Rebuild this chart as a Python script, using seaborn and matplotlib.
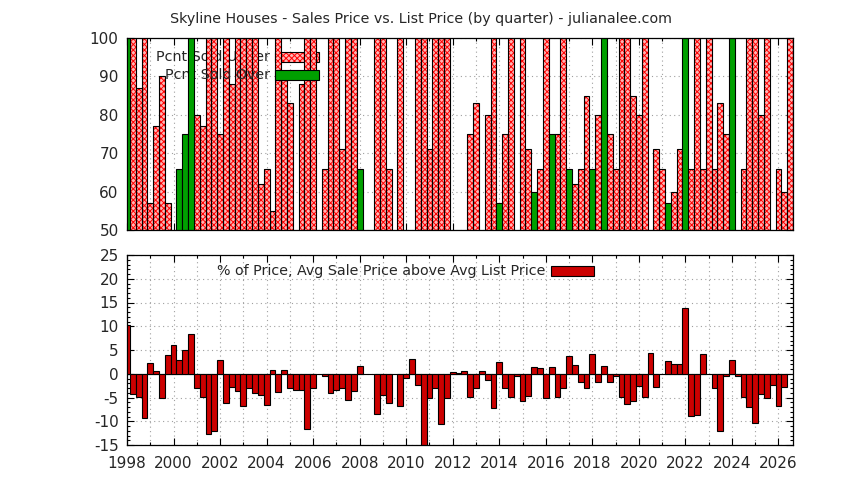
import numpy as np
import pandas as pd
import seaborn as sns
import matplotlib
matplotlib.use('Agg')
from matplotlib import pyplot as plt
from matplotlib.ticker import MultipleLocator
from matplotlib.patches import Rectangle

_ = np.nan

# one slot per quarter, starting 1998 Q1
first_year = 1998

# top panel (percent of sales), nan = no bar in that quarter
sold_under = [
    _, 100, 87, 100, 57, 77, 90, 57, _, _,
    _, _, 80, 77, 100, 100, 75, 100, 88, 100,
    100, 100, 100, 62, 66, 55, 100, 89, 83, _,
    88, 100, 100, _, 66, 100, 100, 71, 100, 100,
    _, _, _, 100, 100, 66, _, 100, _, _,
    100, 100, 71, 100, 100, 100, _, _, _, 75,
    83, _, 80, 100, _, 75, 100, _, 100, 71,
    _, 66, 100, _, 75, 100, _, 62, 66, 85,
    _, 80, _, 75, 66, 100, 100, 85, 80, 100,
    _, 71, 66, _, 60, 71, _, 66, 100, 66,
    100, 66, 83, 75, _, _, 66, 100, 100, 80,
    100, _, 66, 60, 100,
]
sold_over = [
    100, _, _, _, _, _, _, _, _, 66,
    75, 100, _, _, _, _, _, _, _, _,
    _, _, _, _, _, _, _, _, _, _,
    _, _, _, _, _, _, _, _, _, _,
    66, _, _, _, _, _, _, _, _, _,
    _, _, _, _, _, _, _, _, _, _,
    _, _, _, _, 57, _, _, _, _, _,
    60, _, _, 75, _, _, 66, _, _, _,
    66, _, 100, _, _, _, _, _, _, _,
    _, _, _, 57, _, _, 100, _, _, _,
    _, _, _, _, 100, _, _, _, _, _,
    _, _, _, _, _,
]

# bottom panel: avg sale price above avg list price, in %
pct_above = [
    10.2, -4.2, -4.8, -9.4, 2.3, 0.6, -5.0, 4.0, 6.1, 2.9,
    5.0, 8.4, -3.0, -4.9, -12.6, -12.0, 2.9, -6.1, -2.7, -3.6,
    -6.7, -3.1, -4.0, -4.5, -6.5, 0.8, -3.8, 0.8, -2.9, -3.4,
    -3.4, -11.7, -3.0, _, -0.5, -4.0, -3.4, -2.9, -5.6, -3.7,
    1.7, _, _, -8.4, -4.5, -6.1, _, -6.7, -0.8, 3.1,
    -2.3, -16.0, -5.0, -2.9, -10.5, -5.2, 0.3, 0.1, 0.6, -4.8,
    -2.9, 0.6, -1.3, -7.3, 2.5, -2.9, -4.8, -0.4, -5.8, -4.6,
    1.5, 1.3, -5.2, 1.5, -4.8, -2.9, 3.8, 1.9, -1.7, -3.1,
    4.2, -1.7, 1.7, -1.7, -0.4, -4.8, -6.3, -5.7, -2.5, -4.8,
    4.4, -2.7, _, 2.7, 2.1, 2.1, 13.8, -8.8, -8.6, 4.2,
    _, -2.9, -12.0, -0.4, 2.9, -0.4, -4.8, -6.9, -10.3, -4.2,
    -5.2, -2.3, -6.7, -2.7, _,
]

title = "Skyline Houses - Sales Price vs. List Price (by quarter) - julianalee.com"

quarter = first_year + np.arange(len(pct_above)) * 0.25
df = pd.DataFrame({'quarter': quarter, 'under': sold_under,
                   'over': sold_over, 'above': pct_above})

PINK = '#ff0000'
PINK_BG = '#ffb4b4'
GREEN = '#00a000'
RED = '#cc0000'
GRIDC = '#a0a0a0'
HATCH = 'xxxxxx'

sns.set_style('ticks')
plt.rcParams['font.family'] = ['DejaVu Sans']
plt.rcParams['font.size'] = 10.3
plt.rcParams['axes.unicode_minus'] = False
plt.rcParams['hatch.linewidth'] = 0.7
plt.rcParams['axes.linewidth'] = 0.9
plt.rcParams['axes.edgecolor'] = 'black'

fig = plt.figure(figsize=(8.44, 4.8), dpi=100)
ax1 = fig.add_axes([127 / 844, 1 - 230 / 480, 666 / 844, 192 / 480])
ax2 = fig.add_axes([127 / 844, 1 - 445 / 480, 666 / 844, 190 / 480])

under = df.dropna(subset=['under'])
over = df.dropna(subset=['over'])
above = df.dropna(subset=['above'])

# hatched fill, then black outline on top
sns.barplot(data=under, x='quarter', y='under', native_scale=True, width=1,
            color=PINK_BG, saturation=1, edgecolor=PINK, linewidth=0,
            hatch=HATCH, errorbar=None, zorder=2, ax=ax1)
sns.barplot(data=under, x='quarter', y='under', native_scale=True, width=1,
            fill=False, color='black', linewidth=0.8,
            errorbar=None, zorder=2.1, ax=ax1)
sns.barplot(data=over, x='quarter', y='over', native_scale=True, width=1,
            color=GREEN, saturation=1, edgecolor='black', linewidth=0.8,
            errorbar=None, zorder=3, ax=ax1)

sns.barplot(data=above, x='quarter', y='above', native_scale=True, width=1,
            color=RED, saturation=1, edgecolor='black', linewidth=0.8,
            errorbar=None, zorder=2, ax=ax2)
ax2.axhline(0, color='black', lw=0.8, zorder=1.8)

xmin, xmax = first_year, quarter[-1] + 0.125
for ax in (ax1, ax2):
    ax.set_xlim(xmin, xmax)
    ax.set_xlabel('')
    ax.set_ylabel('')
    ax.set_xticks(np.arange(1998, 2027, 2))
    ax.xaxis.set_minor_locator(MultipleLocator(1))
    ax.tick_params(which='both', direction='in', top=True, right=True,
                   color='black', width=0.8, labelsize=11)
    ax.tick_params(which='major', length=5)
    ax.tick_params(which='minor', length=2.5)
    ax.tick_params(axis='y', pad=6)
    ax.tick_params(axis='x', pad=8)
    ax.grid(which='both', axis='x', ls=(0, (1, 3)), color=GRIDC, lw=0.8, zorder=0.5)
    ax.grid(which='major', axis='y', ls=(0, (1, 3)), color=GRIDC, lw=0.8, zorder=0.5)
    ax.set_axisbelow(True)
    for s in ax.spines.values():
        s.set_zorder(5)

ax1.set_ylim(50, 100)
ax1.set_yticks(np.arange(50, 101, 10))
ax1.yaxis.set_minor_locator(MultipleLocator(2))
ax1.tick_params(axis='x', labelbottom=False)

ax2.set_ylim(-15, 25)
ax2.set_yticks(np.arange(-15, 26, 5))
ax2.yaxis.set_minor_locator(MultipleLocator(1))
ax2.set_xticklabels([str(y) for y in range(1998, 2027, 2)])

# keys drawn gnuplot-style: entries sit among the bars
tx, bx, bw = 0.2147, 0.222, 0.066
ax1.text(tx, 0.903, 'Pcnt Sold Under', transform=ax1.transAxes,
         ha='right', va='center', zorder=1.5)
ax1.add_patch(Rectangle((bx, 0.877), bw, 0.052, transform=ax1.transAxes,
                        facecolor=PINK_BG, edgecolor=PINK, lw=0, hatch=HATCH,
                        zorder=1.5, clip_on=False))
ax1.add_patch(Rectangle((bx, 0.877), bw, 0.052, transform=ax1.transAxes,
                        fill=False, edgecolor='black', lw=0.8,
                        zorder=1.6, clip_on=False))
ax1.text(tx, 0.807, 'Pcnt Sold Over', transform=ax1.transAxes,
         ha='right', va='center', zorder=2.5)
ax1.add_patch(Rectangle((bx, 0.781), bw, 0.052, transform=ax1.transAxes,
                        facecolor=GREEN, edgecolor='black', lw=0.8,
                        zorder=2.5, clip_on=False))

ax2.text(0.6276, 0.916, '% of Price, Avg Sale Price above Avg List Price',
         transform=ax2.transAxes, ha='right', va='center', zorder=4)
ax2.add_patch(Rectangle((0.6366, 0.89), 0.0646, 0.052, transform=ax2.transAxes,
                        facecolor=RED, edgecolor='black', lw=0.8, zorder=4))

fig.text(0.4994, 0.960, title, ha='center', va='center')

fig.savefig('out.png', dpi=100)
